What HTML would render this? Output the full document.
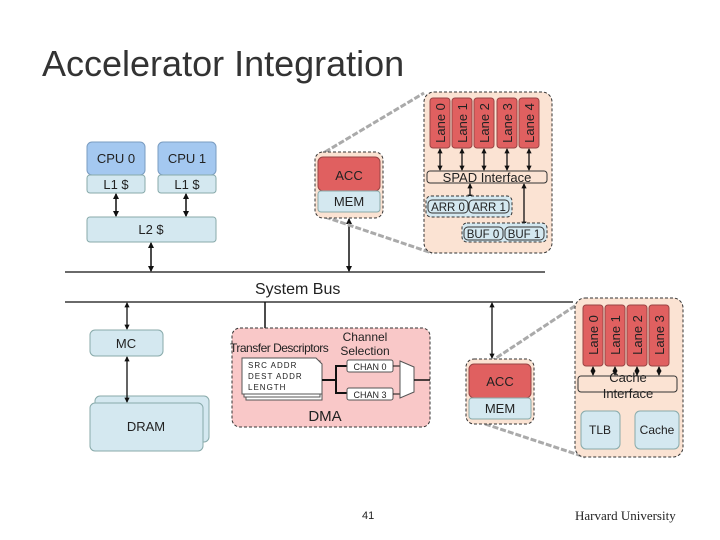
<!DOCTYPE html>
<html><head><meta charset="utf-8"><style>
body{margin:0;background:#fff}
svg{display:block}
text{font-family:"Liberation Sans",sans-serif;fill:#222}
</style></head><body>
<svg width="720" height="540" viewBox="0 0 720 540" xmlns="http://www.w3.org/2000/svg">
<defs>
<marker id="a" viewBox="0 0 6 6" refX="5" refY="3" markerWidth="4" markerHeight="4" orient="auto-start-reverse"><path d="M0,0L6,3L0,6z" fill="#111"/></marker>
</defs>
<text x="42" y="76" font-size="36" style="fill:#333">Accelerator Integration</text>

<!-- CPUs -->
<rect x="87" y="142" width="58" height="33" rx="5" fill="#a4c8f0" stroke="#7a9cc0"/>
<text x="116" y="163" font-size="13" text-anchor="middle">CPU 0</text>
<rect x="87" y="175" width="58" height="18" rx="3" fill="#d4e8f0" stroke="#8aa"/>
<text x="116" y="189" font-size="13" text-anchor="middle">L1 $</text>
<rect x="158" y="142" width="58" height="33" rx="5" fill="#a4c8f0" stroke="#7a9cc0"/>
<text x="187" y="163" font-size="13" text-anchor="middle">CPU 1</text>
<rect x="158" y="175" width="58" height="18" rx="3" fill="#d4e8f0" stroke="#8aa"/>
<text x="187" y="189" font-size="13" text-anchor="middle">L1 $</text>
<rect x="87" y="217" width="129" height="25" rx="3" fill="#d4e8f0" stroke="#8aa"/>
<text x="151" y="234" font-size="13" text-anchor="middle">L2 $</text>
<g stroke="#111" stroke-width="1.5" marker-start="url(#a)" marker-end="url(#a)">
<line x1="116" y1="194" x2="116" y2="216"/>
<line x1="186" y1="194" x2="186" y2="216"/>
<line x1="151" y1="243" x2="151" y2="271"/>
<line x1="349" y1="219" x2="349" y2="271"/>
</g>

<line x1="325" y1="152" x2="424" y2="93" stroke="#aaa" stroke-width="3" stroke-dasharray="6,2"/>
<line x1="325" y1="217" x2="432" y2="253" stroke="#aaa" stroke-width="3" stroke-dasharray="6,2"/>

<rect x="315" y="152" width="68" height="66" rx="8" fill="#fbe3d3" stroke="#333" stroke-dasharray="3,2"/>
<rect x="318" y="157" width="62" height="34" rx="5" fill="#e06060" stroke="#944"/>
<text x="349" y="180" font-size="13" text-anchor="middle">ACC</text>
<rect x="318" y="191" width="62" height="21" rx="3" fill="#d4e8f0" stroke="#8aa"/>
<text x="349" y="206" font-size="13" text-anchor="middle">MEM</text>

<rect x="424" y="92" width="128" height="161" rx="10" fill="#fbe3d3" stroke="#333" stroke-dasharray="3,2"/>
<g font-size="13">
<rect x="430" y="98" width="20" height="50" rx="3" fill="#e06060" stroke="#944"/>
<rect x="452" y="98" width="20" height="50" rx="3" fill="#e06060" stroke="#944"/>
<rect x="474" y="98" width="20" height="50" rx="3" fill="#e06060" stroke="#944"/>
<rect x="497" y="98" width="20" height="50" rx="3" fill="#e06060" stroke="#944"/>
<rect x="519" y="98" width="20" height="50" rx="3" fill="#e06060" stroke="#944"/>
<text transform="translate(445,123) rotate(-90)" text-anchor="middle">Lane 0</text>
<text transform="translate(467,123) rotate(-90)" text-anchor="middle">Lane 1</text>
<text transform="translate(489,123) rotate(-90)" text-anchor="middle">Lane 2</text>
<text transform="translate(512,123) rotate(-90)" text-anchor="middle">Lane 3</text>
<text transform="translate(534,123) rotate(-90)" text-anchor="middle">Lane 4</text>
</g>
<g stroke="#111" stroke-width="1.3" marker-start="url(#a)" marker-end="url(#a)">
<line x1="440" y1="149" x2="440" y2="170"/><line x1="462" y1="149" x2="462" y2="170"/>
<line x1="484" y1="149" x2="484" y2="170"/><line x1="507" y1="149" x2="507" y2="170"/>
<line x1="529" y1="149" x2="529" y2="170"/>
<line x1="470" y1="184" x2="470" y2="199"/>
<line x1="524" y1="184" x2="524" y2="226"/>
</g>
<rect x="427" y="171" width="120" height="12" rx="3" fill="#fbe3d3" stroke="#333"/>
<text x="487" y="182" font-size="13" text-anchor="middle">SPAD Interface</text>
<rect x="426" y="196" width="86" height="21" rx="5" fill="#d4e8f0" stroke="#333" stroke-dasharray="3,2"/>
<rect x="428" y="200" width="40" height="13" rx="4" fill="#d4e8f0" stroke="#333"/>
<rect x="469" y="200" width="40" height="13" rx="4" fill="#d4e8f0" stroke="#333"/>
<text x="448" y="211" font-size="11.5" text-anchor="middle">ARR 0</text>
<text x="489" y="211" font-size="11.5" text-anchor="middle">ARR 1</text>
<rect x="462" y="223" width="85" height="19" rx="5" fill="#d4e8f0" stroke="#333" stroke-dasharray="3,2"/>
<rect x="464" y="227" width="39" height="13" rx="4" fill="#d4e8f0" stroke="#333"/>
<rect x="505" y="227" width="39" height="13" rx="4" fill="#d4e8f0" stroke="#333"/>
<text x="483" y="238" font-size="11.5" text-anchor="middle">BUF 0</text>
<text x="524" y="238" font-size="11.5" text-anchor="middle">BUF 1</text>

<line x1="65" y1="272" x2="545" y2="272" stroke="#111" stroke-width="1.3"/>
<text x="255" y="294" font-size="16">System Bus</text>
<line x1="65" y1="302" x2="573" y2="302" stroke="#111" stroke-width="1.3"/>

<rect x="90" y="330" width="73" height="26" rx="5" fill="#d4e8f0" stroke="#8aa"/>
<text x="126" y="348" font-size="13" text-anchor="middle">MC</text>
<rect x="95" y="396" width="114" height="46" rx="5" fill="#d4e8f0" stroke="#8aa"/>
<rect x="90" y="403" width="113" height="48" rx="5" fill="#d4e8f0" stroke="#8aa"/>
<text x="146" y="431" font-size="13" text-anchor="middle">DRAM</text>
<g stroke="#111" stroke-width="1.3" marker-start="url(#a)" marker-end="url(#a)">
<line x1="127" y1="303" x2="127" y2="329"/>
<line x1="127" y1="357" x2="127" y2="402"/>
<line x1="492" y1="303" x2="492" y2="358"/>
<line x1="600" y1="393" x2="600" y2="410"/>
<line x1="657" y1="393" x2="657" y2="410"/>
<line x1="621" y1="430" x2="634" y2="430"/>
</g>
<line x1="265" y1="302" x2="265" y2="328" stroke="#111" stroke-width="1.5"/>

<rect x="232" y="328" width="198" height="99" rx="8" fill="#f9c8c8" stroke="#333" stroke-dasharray="3,2"/>
<text x="230" y="352" font-size="12" style="letter-spacing:-0.5px">Transfer Descriptors</text>
<text x="365" y="341" font-size="12" text-anchor="middle">Channel</text>
<text x="365" y="355" font-size="12" text-anchor="middle">Selection</text>
<rect x="246" y="364" width="76" height="36" fill="#fff" stroke="#555"/>
<rect x="244" y="361" width="76" height="36" fill="#fff" stroke="#555"/>
<path d="M242,358 H316 L322,364 V394 H242 Z" fill="#fff" stroke="#555"/>
<text x="248" y="368" font-size="8" style="letter-spacing:1px">SRC ADDR</text>
<text x="248" y="379" font-size="8" style="letter-spacing:1px">DEST ADDR</text>
<text x="248" y="390" font-size="8" style="letter-spacing:1px">LENGTH</text>
<path d="M322,380 H336 V366 H347 M336,380 V393 H347" fill="none" stroke="#111" stroke-width="2"/>
<rect x="347" y="360" width="46" height="12" rx="2" fill="#fff" stroke="#555"/>
<text x="370" y="370" font-size="9" text-anchor="middle">CHAN 0</text>
<rect x="347" y="388" width="46" height="12" rx="2" fill="#fff" stroke="#555"/>
<text x="370" y="398" font-size="9" text-anchor="middle">CHAN 3</text>
<line x1="393" y1="366" x2="400" y2="366" stroke="#111"/><line x1="393" y1="394" x2="400" y2="394" stroke="#111"/>
<path d="M400,361 L414,367 V392 L400,398 Z" fill="#fff" stroke="#555"/>
<line x1="414" y1="380" x2="430" y2="380" stroke="#111" stroke-width="1.5"/>
<text x="325" y="421" font-size="15" text-anchor="middle">DMA</text>

<line x1="490" y1="362" x2="584" y2="300" stroke="#aaa" stroke-width="3" stroke-dasharray="6,2"/>
<line x1="485" y1="424" x2="585" y2="457" stroke="#aaa" stroke-width="3" stroke-dasharray="6,2"/>

<rect x="466" y="359" width="68" height="65" rx="8" fill="#fbe3d3" stroke="#333" stroke-dasharray="3,2"/>
<rect x="469" y="364" width="62" height="34" rx="5" fill="#e06060" stroke="#944"/>
<text x="500" y="386" font-size="13" text-anchor="middle">ACC</text>
<rect x="469" y="398" width="62" height="21" rx="3" fill="#d4e8f0" stroke="#8aa"/>
<text x="500" y="413" font-size="13" text-anchor="middle">MEM</text>

<rect x="575" y="298" width="108" height="159" rx="10" fill="#fbe3d3" stroke="#333" stroke-dasharray="3,2"/>
<g font-size="13">
<rect x="583" y="305" width="20" height="61" rx="3" fill="#e06060" stroke="#944"/>
<rect x="605" y="305" width="20" height="61" rx="3" fill="#e06060" stroke="#944"/>
<rect x="627" y="305" width="20" height="61" rx="3" fill="#e06060" stroke="#944"/>
<rect x="649" y="305" width="20" height="61" rx="3" fill="#e06060" stroke="#944"/>
<text transform="translate(598,335) rotate(-90)" text-anchor="middle">Lane 0</text>
<text transform="translate(620,335) rotate(-90)" text-anchor="middle">Lane 1</text>
<text transform="translate(642,335) rotate(-90)" text-anchor="middle">Lane 2</text>
<text transform="translate(664,335) rotate(-90)" text-anchor="middle">Lane 3</text>
</g>
<g stroke="#111" stroke-width="1.3" marker-start="url(#a)" marker-end="url(#a)">
<line x1="593" y1="367" x2="593" y2="375"/><line x1="615" y1="367" x2="615" y2="375"/>
<line x1="637" y1="367" x2="637" y2="375"/><line x1="659" y1="367" x2="659" y2="375"/>
</g>
<rect x="578" y="376" width="99" height="16" rx="3" fill="#fbe3d3" stroke="#333"/>
<text x="628" y="382" font-size="13" text-anchor="middle">Cache</text>
<text x="628" y="398" font-size="13" text-anchor="middle">Interface</text>
<rect x="581" y="411" width="39" height="38" rx="5" fill="#d4e8f0" stroke="#8aa"/>
<text x="600" y="434" font-size="12" text-anchor="middle">TLB</text>
<rect x="635" y="411" width="44" height="38" rx="5" fill="#d4e8f0" stroke="#8aa"/>
<text x="657" y="434" font-size="12" text-anchor="middle">Cache</text>

<text x="362" y="519" font-size="11">41</text>
<text x="575" y="520" font-size="13" style="font-family:'Liberation Serif',serif;fill:#222">Harvard University</text>
</svg>
</body></html>
